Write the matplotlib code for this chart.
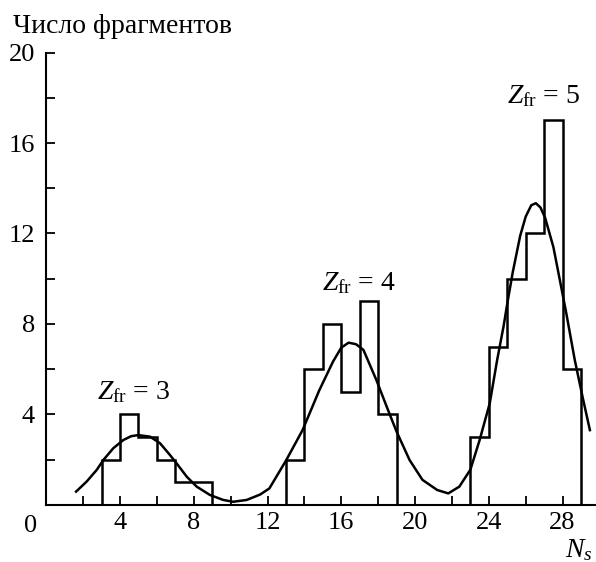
import numpy as np
import matplotlib
matplotlib.use("Agg")
import matplotlib.pyplot as plt

plt.rcParams["font.family"] = ["Liberation Serif", "DejaVu Serif"]
plt.rcParams["mathtext.fontset"] = "custom"
plt.rcParams["mathtext.rm"] = "Liberation Serif"
plt.rcParams["mathtext.it"] = "Liberation Serif:italic"

# histogram groups (bin edges, counts)
edges_z3 = [3, 4, 5, 6, 7, 8, 9]
counts_z3 = [2, 4, 3, 2, 1, 1]
edges_z4 = [13, 14, 15, 16, 17, 18, 19]
counts_z4 = [2, 6, 8, 5, 9, 4]
edges_z5 = [23, 24, 25, 26, 27, 28, 29]
counts_z5 = [3, 7, 10, 12, 17, 6]

# fitted curve
curve_x = [1.62, 2.19, 2.74, 3.1, 3.64, 4.18, 4.6, 4.99, 5.63, 6.17, 6.71, 7.07,
           7.62, 8.16, 8.88, 9.6, 10.14, 10.87, 11.6, 12.1, 13.0, 13.9, 14.8,
           15.55, 16.0, 16.4, 16.8, 17.2, 17.9, 18.6, 19.0, 19.7, 20.4, 21.2,
           21.8, 22.4, 23.0, 23.5, 24.05, 24.45, 24.8, 25.0, 25.3, 25.7, 26.0,
           26.3, 26.55, 26.8, 27.05, 27.5, 27.85, 28.2, 28.66, 29.1, 29.48]
curve_y = [0.58, 1.02, 1.54, 1.98, 2.5, 2.86, 3.03, 3.08, 3.01, 2.72, 2.2, 1.83,
           1.24, 0.8, 0.43, 0.21, 0.13, 0.21, 0.45, 0.72, 1.95, 3.3, 5.05,
           6.33, 6.95, 7.17, 7.1, 6.85, 5.52, 4.05, 3.23, 1.98, 1.1, 0.65,
           0.5, 0.8, 1.55, 2.86, 4.49, 6.4, 7.9, 8.9, 10.3, 11.9, 12.75,
           13.25, 13.34, 13.15, 12.7, 11.4, 9.94, 8.47, 6.4, 4.7, 3.3]

peak_labels = ["3", "4", "5"]
peak_label_x = [2.75, 14.93, 24.96]
peak_label_y = [4.68, 9.5, 17.76]

fig = plt.figure(figsize=(5.96, 5.62), dpi=100)
ax = fig.add_axes([46.2 / 596, 1 - 504.7 / 562, 1 - 46.2 / 596, (504.7 - 52.7) / 562])

lw = 1.8
for edges, counts in [(edges_z3, counts_z3), (edges_z4, counts_z4), (edges_z5, counts_z5)]:
    ax.stairs(counts, edges, baseline=0, color="black", linewidth=lw)

ax.plot(curve_x, curve_y, color="black", linewidth=lw, solid_joinstyle="round")

for lab, x, y in zip(peak_labels, peak_label_x, peak_label_y):
    ax.text(x, y, r"$Z_{\rm fr}$ = " + lab, fontsize=20, ha="left", va="baseline")

ax.set_xlim(0, 550 / 18.45)
ax.set_ylim(0, 20)
for s in ["top", "right"]:
    ax.spines[s].set_visible(False)
for s in ["left", "bottom"]:
    ax.spines[s].set_linewidth(1.5)
ax.spines["left"].set_bounds(0, 20)

ax.set_xticks([4, 8, 12, 16, 20, 24, 28])
ax.set_xticks([2, 6, 10, 14, 18, 22, 26], minor=True)
ax.set_yticks([4, 8, 12, 16, 20])
ax.set_yticks([2, 6, 10, 14, 18], minor=True)
ax.tick_params(which="both", direction="in", length=6.5, width=1.3, labelsize=19)
ax.tick_params(axis="x", which="major", pad=5)
ax.tick_params(axis="y", which="major", pad=8)

fig.text(13 / 596, 1 - 33 / 562, "Число фрагментов", fontsize=20, ha="left", va="baseline")
fig.text(30.5 / 596, 1 - 532 / 562, "0", fontsize=19, ha="center", va="baseline")
fig.text(593 / 596, 1 - 557 / 562, r"$N_s$", fontsize=20, ha="right", va="baseline")

fig.savefig("out.png", dpi=100)
